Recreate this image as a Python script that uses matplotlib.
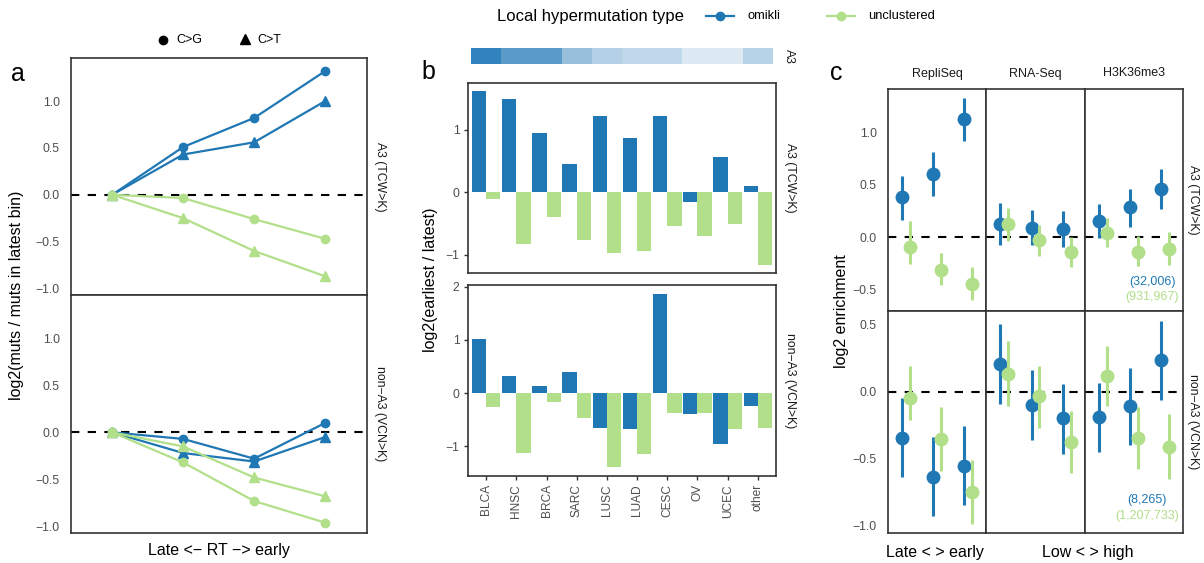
import matplotlib
matplotlib.use("Agg")
import matplotlib.pyplot as plt
import numpy as np
from matplotlib.lines import Line2D
from matplotlib.colors import LinearSegmentedColormap

plt.rcParams['font.family'] = ['Liberation Sans', 'DejaVu Sans']

W, H = 1204, 563
BLUE = '#1f78b4'
GREEN = '#b2df8a'
TICK_C = '#4d4d4d'
FRAME_C = '#333333'

# ---------------- data: panel a ----------------
rt_bins = [1, 2, 3, 4]
a3_omikli_cg = [0, 0.51, 0.82, 1.32]
a3_omikli_ct = [0, 0.43, 0.56, 1.00]
a3_uncl_cg = [0, -0.035, -0.26, -0.47]
a3_uncl_ct = [0, -0.25, -0.60, -0.87]
nona3_omikli_cg = [0, -0.07, -0.28, 0.10]
nona3_omikli_ct = [0, -0.22, -0.31, -0.05]
nona3_uncl_cg = [0, -0.32, -0.73, -0.96]
nona3_uncl_ct = [0, -0.15, -0.48, -0.68]

# ---------------- data: panel b ----------------
cancer_types = ['BLCA', 'HNSC', 'BRCA', 'SARC', 'LUSC', 'LUAD', 'CESC', 'OV', 'UCEC', 'other']
a3_level = [1.0, 0.8, 0.8, 0.5, 0.37, 0.31, 0.31, 0.17, 0.17, 0.35]
b_a3_omikli = [1.62, 1.49, 0.95, 0.45, 1.22, 0.87, 1.22, -0.15, 0.57, 0.10]
b_a3_uncl = [-0.11, -0.83, -0.39, -0.76, -0.97, -0.93, -0.54, -0.69, -0.51, -1.16]
b_nona3_omikli = [1.02, 0.32, 0.13, 0.39, -0.65, -0.67, 1.86, -0.39, -0.95, -0.24]
b_nona3_uncl = [-0.26, -1.12, -0.17, -0.47, -1.40, -1.14, -0.37, -0.37, -0.67, -0.65]

# ---------------- data: panel c ----------------
features = ['RepliSeq', 'RNA-Seq', 'H3K36me3']
feature_bins = [1, 2, 3]
c_a3_omikli_mean = [[0.38, 0.60, 1.12], [0.12, 0.09, 0.08], [0.15, 0.29, 0.46]]
c_a3_omikli_lo = [[0.165, 0.394, 0.91], [-0.08, -0.08, -0.10], [-0.01, 0.10, 0.27]]
c_a3_omikli_hi = [[0.584, 0.806, 1.32], [0.32, 0.26, 0.25], [0.31, 0.46, 0.65]]
c_a3_uncl_mean = [[-0.10, -0.31, -0.45], [0.12, -0.03, -0.14], [0.04, -0.14, -0.11]]
c_a3_uncl_lo = [[-0.26, -0.46, -0.60], [-0.04, -0.18, -0.29], [-0.10, -0.28, -0.27]]
c_a3_uncl_hi = [[0.15, -0.15, -0.29], [0.28, 0.11, 0.0], [0.18, 0.01, 0.05]]
c_nona3_omikli_mean = [[-0.344, -0.638, -0.555], [0.209, -0.10, -0.20], [-0.19, -0.106, 0.236]]
c_nona3_omikli_lo = [[-0.643, -0.932, -0.847], [-0.093, -0.362, -0.467], [-0.452, -0.40, -0.065]]
c_nona3_omikli_hi = [[-0.045, -0.339, -0.261], [0.508, 0.161, 0.06], [0.063, 0.178, 0.533]]
c_nona3_uncl_mean = [[-0.045, -0.352, -0.754], [0.133, -0.035, -0.377], [0.12, -0.344, -0.412]]
c_nona3_uncl_lo = [[-0.216, -0.595, -0.992], [-0.108, -0.269, -0.61], [-0.108, -0.578, -0.656]]
c_nona3_uncl_hi = [[0.196, -0.113, -0.515], [0.377, 0.196, -0.148], [0.344, -0.113, -0.168]]
count_a3 = ['(32,006)', '(931,967)']
count_nona3 = ['(8,265)', '(1,207,733)']

fig = plt.figure(figsize=(W / 100, H / 100), dpi=100)


def ax_px(x0, y0, x1, y1):
    return fig.add_axes([x0 / W, 1 - y1 / H, (x1 - x0) / W, (y1 - y0) / H])


def style(ax, ticklen=0, pad=7):
    for s in ax.spines.values():
        s.set_color(FRAME_C)
        s.set_linewidth(1.2)
    ax.tick_params(axis='both', colors=FRAME_C, labelcolor=TICK_C, labelsize=8.8,
                   length=ticklen, width=1.0, pad=pad)


def fx(px):
    return px / W


def fy(py):
    return 1 - py / H


def zero_line(ax):
    ax.axhline(0, color='black', lw=1.5, dashes=(4, 4), zorder=1)


# ================= panel a =================
ax_a_top = ax_px(71, 58, 367, 295)
ax_a_bot = ax_px(71, 295, 367, 533)
for ax, ocg, oct_, ucg, uct, lab in [
    (ax_a_top, a3_omikli_cg, a3_omikli_ct, a3_uncl_cg, a3_uncl_ct, 'A3 (TCW>K)'),
    (ax_a_bot, nona3_omikli_cg, nona3_omikli_ct, nona3_uncl_cg, nona3_uncl_ct, 'non\u2212A3 (VCN>K)')]:
    style(ax, ticklen=0, pad=8)
    zero_line(ax)
    ax.plot(rt_bins, ocg, color=BLUE, lw=1.6, marker='o', ms=6, zorder=3)
    ax.plot(rt_bins, oct_, color=BLUE, lw=1.6, marker='^', ms=7, zorder=3)
    ax.plot(rt_bins, ucg, color=GREEN, lw=1.6, marker='o', ms=6, zorder=4)
    ax.plot(rt_bins, uct, color=GREEN, lw=1.6, marker='^', ms=7, zorder=4)
    ax.set_xlim(0.42, 4.59)
    ax.set_ylim(-1.07, 1.46)
    ax.set_yticks([-1.0, -0.5, 0.0, 0.5, 1.0])
    ax.set_yticklabels(['\u22121.0', '\u22120.5', '0.0', '0.5', '1.0'])
    ax.set_xticks([])
    ax.text(1.045, 0.5, lab, transform=ax.transAxes, rotation=-90, ha='center',
            va='center', fontsize=8.8, color='#1a1a1a')

fig.text(fx(17), fy(295), 'log2(muts / muts in latest bin)', rotation=90,
         ha='center', va='center', fontsize=11.5)
fig.text(fx(219), fy(551), 'Late <\u2212 RT \u2212> early', ha='center', va='center', fontsize=11.5)
fig.text(fx(18), fy(74), 'a', ha='center', va='center', fontsize=18)

# marker-shape legend
fig.add_artist(Line2D([fx(163)], [fy(40)], marker='o', color='black', ms=6,
                      linestyle='none', transform=fig.transFigure))
fig.text(fx(176), fy(40), 'C>G', ha='left', va='center', fontsize=9)
fig.add_artist(Line2D([fx(245)], [fy(39)], marker='^', color='black', ms=7,
                      linestyle='none', transform=fig.transFigure))
fig.text(fx(257), fy(40), 'C>T', ha='left', va='center', fontsize=9)

# ================= panel b =================
ax_strip = ax_px(471, 48, 773, 64)
cmap = LinearSegmentedColormap.from_list('a3', ['#ffffff', '#3182bd'])
ax_strip.imshow(np.array([a3_level]), cmap=cmap, vmin=0, vmax=1, aspect='auto',
                extent=(0.5, len(cancer_types) + 0.5, 0, 1))
ax_strip.set_xlim(0.5, len(cancer_types) + 0.5)
ax_strip.axis('off')
fig.text(fx(789), fy(56), 'A3', rotation=-90, ha='center', va='center', fontsize=8.8,
         color='#1a1a1a')

xpos = np.arange(1, len(cancer_types) + 1)
bw = 0.475
ax_b_top = ax_px(468, 83, 776, 273)
ax_b_bot = ax_px(468, 285, 776, 476)
for ax, om, un, lab, ylim, yt in [
    (ax_b_top, b_a3_omikli, b_a3_uncl, 'A3 (TCW>K)', (-1.29, 1.75), [-1, 0, 1]),
    (ax_b_bot, b_nona3_omikli, b_nona3_uncl, 'non\u2212A3 (VCN>K)', (-1.56, 2.03), [-1, 0, 1, 2])]:
    style(ax, ticklen=3, pad=3)
    ax.bar(xpos - bw / 2, om, width=bw, color=BLUE, zorder=2)
    ax.bar(xpos + bw / 2, un, width=bw, color=GREEN, zorder=2)
    ax.set_xlim(0.4, len(cancer_types) + 0.6)
    ax.set_ylim(*ylim)
    ax.set_yticks(yt)
    ax.set_yticklabels([('\u2212' + str(-v)) if v < 0 else str(v) for v in yt])
    ax.text(1.045, 0.5, lab, transform=ax.transAxes, rotation=-90, ha='center',
            va='center', fontsize=8.8, color='#1a1a1a')
ax_b_top.set_xticks([])
ax_b_bot.set_xticks(xpos)
ax_b_bot.set_xticklabels(cancer_types, rotation=90, fontsize=8.6)
fig.text(fx(431), fy(280), 'log2(earliest / latest)', rotation=90, ha='center',
         va='center', fontsize=11.5)
fig.text(fx(428), fy(72), 'b', ha='center', va='center', fontsize=18)

# ================= panel c =================
col_edges = [888, 986, 1085, 1183]
dodge = 0.125
axes_c_top, axes_c_bot = [], []
for j in range(3):
    for row, (y0, y1) in enumerate([(89, 311), (311, 533)]):
        ax = ax_px(col_edges[j], y0, col_edges[j + 1], y1)
        style(ax, ticklen=0, pad=8)
        zero_line(ax)
        if row == 0:
            om_m, om_l, om_h = c_a3_omikli_mean[j], c_a3_omikli_lo[j], c_a3_omikli_hi[j]
            un_m, un_l, un_h = c_a3_uncl_mean[j], c_a3_uncl_lo[j], c_a3_uncl_hi[j]
            ax.set_ylim(-0.705, 1.41)
            yt = [-0.5, 0.0, 0.5, 1.0]
        else:
            om_m, om_l, om_h = c_nona3_omikli_mean[j], c_nona3_omikli_lo[j], c_nona3_omikli_hi[j]
            un_m, un_l, un_h = c_nona3_uncl_mean[j], c_nona3_uncl_lo[j], c_nona3_uncl_hi[j]
            ax.set_ylim(-1.06, 0.605)
            yt = [-1.0, -0.5, 0.0, 0.5]
        xb = np.array(feature_bins, dtype=float)
        ax.vlines(xb - dodge, om_l, om_h, color=BLUE, lw=2.2, zorder=2)
        ax.plot(xb - dodge, om_m, 'o', color=BLUE, ms=9, zorder=3)
        ax.vlines(xb + dodge, un_l, un_h, color=GREEN, lw=2.2, zorder=4)
        ax.plot(xb + dodge, un_m, 'o', color=GREEN, ms=9, zorder=5)
        ax.set_xlim(0.42, 3.58)
        ax.set_xticks([])
        ax.set_yticks(yt)
        if j == 0:
            ax.set_yticklabels([('\u2212%.1f' % -v) if v < 0 else '%.1f' % v for v in yt])
        else:
            ax.set_yticklabels([])
        if row == 0:
            axes_c_top.append(ax)
        else:
            axes_c_bot.append(ax)
    axes_c_top[j].set_title(features[j], fontsize=9, color='#1a1a1a', pad=9)

axes_c_top[2].text(0.684, 0.132, count_a3[0], transform=axes_c_top[2].transAxes,
                   ha='center', va='center', fontsize=9, color=BLUE)
axes_c_top[2].text(0.684, 0.063, count_a3[1], transform=axes_c_top[2].transAxes,
                   ha='center', va='center', fontsize=9, color=GREEN)
axes_c_bot[2].text(0.633, 0.147, count_nona3[0], transform=axes_c_bot[2].transAxes,
                   ha='center', va='center', fontsize=9, color=BLUE)
axes_c_bot[2].text(0.633, 0.075, count_nona3[1], transform=axes_c_bot[2].transAxes,
                   ha='center', va='center', fontsize=9, color=GREEN)
axes_c_top[2].text(1.1, 0.5, 'A3 (TCW>K)', transform=axes_c_top[2].transAxes,
                   rotation=-90, ha='center', va='center', fontsize=8.8, color='#1a1a1a')
axes_c_bot[2].text(1.1, 0.5, 'non\u2212A3 (VCN>K)', transform=axes_c_bot[2].transAxes,
                   rotation=-90, ha='center', va='center', fontsize=8.8, color='#1a1a1a')

fig.text(fx(841), fy(311), 'log2 enrichment', rotation=90, ha='center', va='center',
         fontsize=11.5)
fig.text(fx(935), fy(552), 'Late < > early', ha='center', va='center', fontsize=11.5)
fig.text(fx(1088), fy(552), 'Low < > high', ha='center', va='center', fontsize=11.5)
fig.text(fx(836), fy(73), 'c', ha='center', va='center', fontsize=18)

# ================= top legend =================
fig.text(fx(497), fy(17), 'Local hypermutation type', ha='left', va='center', fontsize=12)
fig.add_artist(Line2D([fx(706), fx(734)], [fy(16), fy(16)], color=BLUE, lw=1.6,
                      transform=fig.transFigure))
fig.add_artist(Line2D([fx(720)], [fy(16)], marker='o', color=BLUE, ms=6,
                      transform=fig.transFigure))
fig.text(fx(747), fy(16), 'omikli', ha='left', va='center', fontsize=9.3)
fig.add_artist(Line2D([fx(827), fx(855)], [fy(16), fy(16)], color=GREEN, lw=1.6,
                      transform=fig.transFigure))
fig.add_artist(Line2D([fx(841)], [fy(16)], marker='o', color=GREEN, ms=6,
                      transform=fig.transFigure))
fig.text(fx(868), fy(16), 'unclustered', ha='left', va='center', fontsize=9.3)

fig.savefig('out.png', dpi=100)
